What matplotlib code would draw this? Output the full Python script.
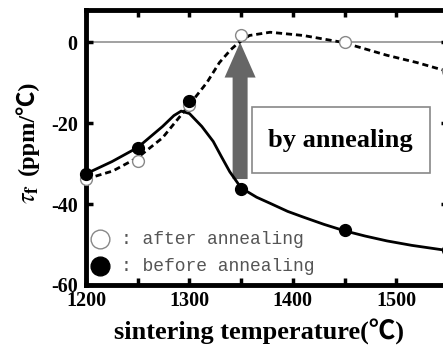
import matplotlib
matplotlib.use("Agg")
import matplotlib.pyplot as plt
from matplotlib.patches import Rectangle
from matplotlib.ticker import MultipleLocator

plt.rcParams['font.family'] = ['Liberation Serif', 'Noto Sans CJK JP', 'DejaVu Sans']
plt.rcParams['mathtext.fontset'] = 'stix'

# measured points
temps = [1200, 1250, 1300, 1350, 1450, 1550]
tau_after = [-33.8, -29.4, -15.6, 1.7, 0.1, -7.0]
tau_before = [-32.6, -26.2, -14.4, -36.2, -46.5, -51.3]

# fitted curves
fit_before_x = [1200, 1225, 1250, 1274, 1285, 1292, 1300, 1312, 1323, 1331, 1339, 1350,
                1365, 1378, 1395, 1410, 1430, 1450, 1470, 1491, 1515, 1550]
fit_before_y = [-32.5, -29.5, -26.0, -20.8, -18.1, -17.0, -17.6, -20.8, -24.5, -28.3, -32.0, -36.0,
                -38.3, -39.8, -41.8, -43.2, -45.0, -46.6, -47.9, -49.1, -50.2, -51.5]
fit_after_x = [1200, 1226, 1250, 1274, 1297, 1317, 1329, 1340, 1347, 1358, 1378, 1410,
               1448, 1491, 1520, 1550]
fit_after_y = [-33.8, -31.8, -28.5, -23.6, -16.4, -9.9, -5.0, -1.8, -0.2, 1.7, 2.5, 1.7,
               0.0, -3.2, -5.0, -7.2]

xticks = [1200, 1300, 1400, 1500]
yticks = [0, -20, -40, -60]

fig = plt.figure(figsize=(4.43, 3.49), dpi=100)
ax = fig.add_axes([86/443, 64/349, 362/443, 275/349])
ax.set_xlim(1200, 1550)
ax.set_ylim(-60, 8)

ax.axhline(0, color='#888888', lw=1.1, zorder=1)

ax.plot(fit_before_x, fit_before_y, color='black', lw=2.0, zorder=3)
ax.plot(fit_after_x, fit_after_y, color='black', lw=2.0, ls=(0, (2.2, 1.4)), zorder=3)

ax.plot(temps, tau_after, ls='none', marker='o', ms=8.5, mfc='white', mec='#888888',
        mew=1.0, zorder=4, clip_on=False)
ax.plot(temps, tau_before, ls='none', marker='o', ms=8.5, mfc='black', mec='black',
        zorder=5, clip_on=False)

# arrow and label box
ax.arrow(1349, -33.8, 0, 33.8, width=14.5, head_width=30, head_length=8.7,
         length_includes_head=True, color='#666666', lw=0, zorder=2)
ax.add_patch(Rectangle((1360.5, -32.3), 172.5, 16.2, facecolor='white',
                       edgecolor='#888888', lw=1.2, zorder=2))
ax.text(1446, -24.3, 'by annealing', ha='center', va='center', fontsize=19,
        fontweight='bold', zorder=3)

# legend
ax.plot([1213.5], [-48.7], marker='o', ms=13.5, mfc='white', mec='#888888', mew=1.0, zorder=5)
ax.plot([1213.5], [-55.4], marker='o', ms=13.5, mfc='black', mec='black', zorder=5)
ax.text(1234, -48.7, ': after annealing', ha='left', va='center', fontsize=13,
        family='Liberation Mono', color='#555555')
ax.text(1234, -55.4, ': before annealing', ha='left', va='center', fontsize=13,
        family='Liberation Mono', color='#555555')

for s in ax.spines.values():
    s.set_linewidth(3.5)

ax.set_xticks(xticks)
ax.set_xticklabels([str(t) for t in xticks])
ax.xaxis.set_minor_locator(MultipleLocator(50))
ax.set_yticks(yticks)
ax.set_yticklabels([str(t) for t in yticks])
ax.tick_params(axis='both', which='both', direction='in', top=True, right=True,
               length=5, width=2.5)
ax.tick_params(axis='x', which='major', labelsize=14.5, pad=4)
ax.tick_params(axis='y', which='major', labelsize=14.5, pad=6)
for lab in ax.get_xticklabels() + ax.get_yticklabels():
    lab.set_fontweight('bold')

ax.set_xlabel('sintering temperature(℃)', fontsize=19, fontweight='bold')
ax.xaxis.set_label_coords((259.5 - 86) / 362, -0.125)

# y label in two parts (math symbol + unit with ℃)
fig.text(30/443, 1 - 194/349, r'$\tau_{\mathbf{f}}$', rotation=90, fontsize=19,
         ha='center', va='center')
fig.text(27/443, 1 - 128/349, '(ppm/℃)', rotation=90, fontsize=17.5,
         fontweight='bold', ha='center', va='center')

fig.savefig('out.png', dpi=100)
